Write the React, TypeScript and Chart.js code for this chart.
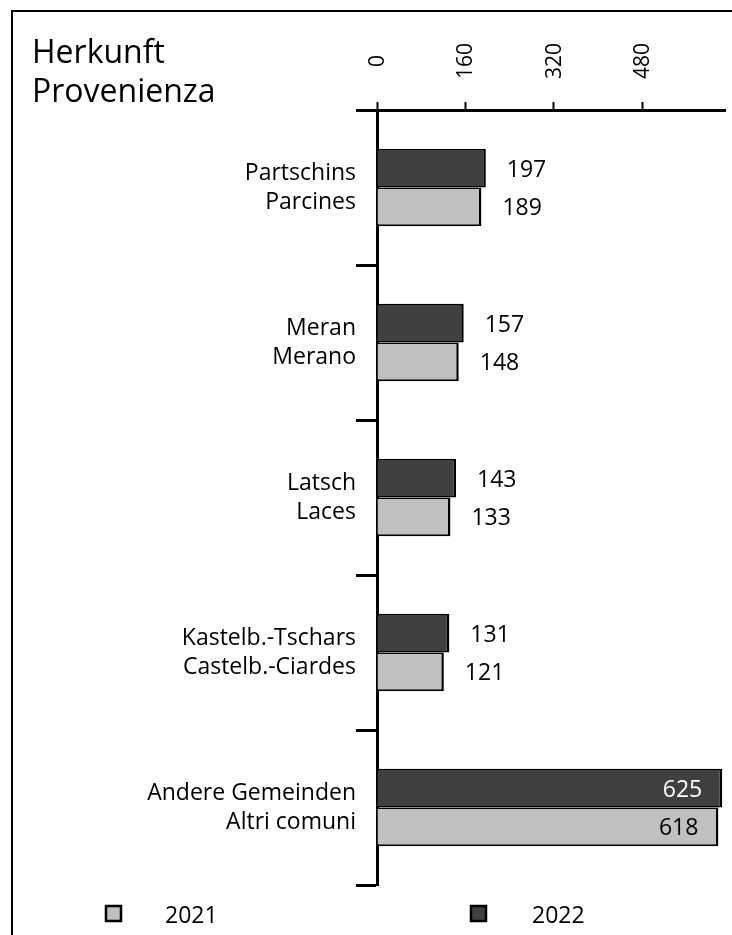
import React, { useEffect, useRef } from 'react';
import { Chart, registerables } from 'chart.js';

Chart.register(...registerables);

// ---- data ----
const categoriesDe = ['Partschins', 'Meran', 'Latsch', 'Kastelb.-Tschars', 'Andere Gemeinden'];
const categoriesIt = ['Parcines', 'Merano', 'Laces', 'Castelb.-Ciardes', 'Altri comuni'];
const values2022 = [197, 157, 143, 131, 625];
const values2021 = [189, 148, 133, 121, 618];
const seriesLabels = ['2022', '2021'];
const titleLines = ['Herkunft', 'Provenienza'];
const xTickValues = [0, 160, 320, 480];
const xMax = 630;

const FONT = '"Open Sans"';
const DARK = '#404040';
const LIGHT = '#c0c0c0';

const overlayPlugin = {
  id: 'overlay',
  afterDatasetsDraw(chart: any) {
    const ctx = chart.ctx;
    ctx.save();
    ctx.font = `23px ${FONT}`;
    ctx.textBaseline = 'alphabetic';
    chart.data.datasets.forEach((ds: any, di: number) => {
      const meta = chart.getDatasetMeta(di);
      meta.data.forEach((bar: any, i: number) => {
        const v = ds.data[i];
        const inside = v > 500;
        ctx.fillStyle = inside && di === 0 ? '#ffffff' : '#000000';
        ctx.textAlign = inside ? 'right' : 'left';
        ctx.fillText(String(v), inside ? bar.x - 20 : bar.x + 21, bar.y + 8.5);
      });
    });
    ctx.restore();
  },
  afterDraw(chart: any) {
    const ctx = chart.ctx;
    const area = chart.chartArea;
    ctx.save();
    // title
    ctx.fillStyle = '#000';
    ctx.font = `32px ${FONT}`;
    ctx.textAlign = 'left';
    ctx.textBaseline = 'alphabetic';
    titleLines.forEach((t, i) => ctx.fillText(t, 19, 51 + i * 39));

    // x tick labels, rotated and centred
    const xs = chart.scales.x;
    ctx.font = `21px ${FONT}`;
    xs.ticks.forEach((t: any) => {
      const px = xs.getPixelForValue(t.value);
      ctx.save();
      ctx.translate(px + 1, area.top - 49);
      ctx.rotate(-Math.PI / 2);
      ctx.textAlign = 'center';
      ctx.textBaseline = 'middle';
      ctx.fillText(String(t.value), 0, 0);
      ctx.restore();
    });

    // legend
    const items = [
      { label: seriesLabels[1], color: LIGHT, bx: 93, tx: 152 },
      { label: seriesLabels[0], color: DARK, bx: 458, tx: 519 },
    ];
    const by = area.bottom + 21;
    items.forEach((it) => {
      ctx.fillStyle = it.color;
      ctx.fillRect(it.bx, by, 15, 15);
      ctx.lineWidth = 2.5;
      ctx.strokeStyle = '#000';
      ctx.strokeRect(it.bx, by, 15, 15);
      ctx.fillStyle = '#000';
      ctx.font = `23px ${FONT}`;
      ctx.textAlign = 'left';
      ctx.textBaseline = 'alphabetic';
      ctx.fillText(it.label, it.tx, by + 17);
    });
    ctx.restore();
  },
};

export default function App() {
  const ref = useRef<HTMLCanvasElement | null>(null);

  useEffect(() => {
    if (!ref.current) return;
    const chart = new Chart(ref.current, {
      type: 'bar',
      data: {
        labels: categoriesDe.map((de, i) => [de, categoriesIt[i]]),
        datasets: [
          {
            label: seriesLabels[0],
            data: values2022,
            backgroundColor: DARK,
            borderColor: '#000',
            borderWidth: { top: 2, right: 2.5, bottom: 1.5, left: 0 } as any,
            borderSkipped: false as any,
            categoryPercentage: 0.5,
            barPercentage: 1,
          },
          {
            label: seriesLabels[1],
            data: values2021,
            backgroundColor: LIGHT,
            borderColor: '#000',
            borderWidth: { top: 1.5, right: 2.5, bottom: 2, left: 0 } as any,
            borderSkipped: false as any,
            categoryPercentage: 0.5,
            barPercentage: 1,
          },
        ],
      },
      options: {
        indexAxis: 'y',
        responsive: false,
        animation: false,
        layout: { padding: { left: 0, top: 0, right: 7, bottom: 50 } },
        plugins: {
          legend: { display: false },
          tooltip: { enabled: false },
          title: { display: false },
        },
        scales: {
          x: {
            position: 'top',
            min: 0,
            max: xMax,
            ticks: { display: false },
            afterBuildTicks: (s: any) => {
              s.ticks = xTickValues.map((v) => ({ value: v }));
            },
            grid: {
              drawOnChartArea: false,
              drawTicks: true,
              tickLength: 8,
              tickWidth: 2,
              tickColor: '#000',
            },
            border: { color: '#000', width: 3 },
            afterFit: (s: any) => {
              s.height = 98;
            },
          },
          y: {
            z: 1,
            ticks: {
              color: '#000',
              padding: 0,
              font: { family: 'Open Sans', size: 23, lineHeight: 1.26 },
            },
            grid: {
              offset: true,
              drawOnChartArea: false,
              drawTicks: true,
              tickLength: 21,
              tickWidth: 3,
              tickColor: '#000',
            },
            border: { color: '#000', width: 3 },
            afterFit: (s: any) => {
              s.width = 364;
            },
          },
        },
      },
      plugins: [overlayPlugin],
    });
    return () => chart.destroy();
  }, []);

  return (
    <div style={{ position: 'fixed', left: 0, top: 0, width: 732, height: 935, overflow: 'hidden', background: '#fff' }}>
      <div
        style={{
          position: 'absolute',
          left: 11,
          top: 10,
          width: 800,
          height: 1000,
          border: '2px solid #000',
          boxSizing: 'border-box',
        }}
      />
      <canvas ref={ref} width={719} height={923} style={{ position: 'absolute', left: 13, top: 12 }} />
    </div>
  );
}
